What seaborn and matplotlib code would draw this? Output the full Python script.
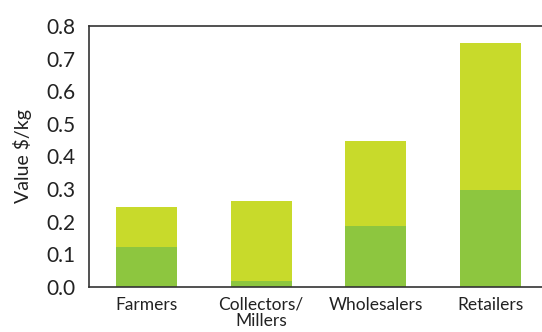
import matplotlib
matplotlib.use("Agg")
import matplotlib.pyplot as plt
import seaborn as sns
import pandas as pd
from matplotlib.ticker import FixedLocator

categories = ["Farmers", "Collectors/\nMillers", "Wholesalers", "Retailers"]
bottom_vals = [0.124, 0.019, 0.188, 0.298]
top_vals = [0.122, 0.246, 0.261, 0.451]
totals = [b + t for b, t in zip(bottom_vals, top_vals)]

df = pd.DataFrame({"cat": categories, "bottom": bottom_vals, "total": totals})

sns.set_style("white")
plt.rcParams["font.family"] = ["Lato", "DejaVu Sans"]

fig = plt.figure(figsize=(5.42, 3.32), dpi=100)
ax = fig.add_axes([89/542, 1-287/332, (548-89)/542, (287-26)/332])

sns.barplot(data=df, x="cat", y="total", color="#c8da2b", width=0.53,
            saturation=1, ax=ax, linewidth=0)
sns.barplot(data=df, x="cat", y="bottom", color="#8dc63f", width=0.53,
            saturation=1, ax=ax, linewidth=0)

ax.set_ylim(0, 0.8)
ax.set_xlim(-0.5, 3.5)
yt = [0.0, 0.1, 0.2, 0.3, 0.4, 0.5, 0.6, 0.7, 0.8]
ax.set_yticks(yt)
ax.set_yticklabels([f"{v:.1f}" for v in yt], fontsize=15, color="#222222")
ax.set_xticks([0, 1, 2, 3])
ax.set_xticklabels(categories, fontsize=12.5, color="#222222", linespacing=1.0)
ax.tick_params(axis="x", which="major", length=0, pad=7)
ax.xaxis.set_minor_locator(FixedLocator([-0.5, 0.5, 1.5, 2.5, 3.5]))
ax.tick_params(axis="x", which="minor", length=6, width=1.2, color="#333333", direction="out")
ax.tick_params(axis="y", length=6, width=1.2, color="#333333", direction="out", pad=4)
ax.set_xlabel("")
ax.set_ylabel("Value $/kg", fontsize=14, color="#222222", labelpad=10)

for s in ["left", "bottom", "top", "right"]:
    ax.spines[s].set_color("#333333")
    ax.spines[s].set_linewidth(1.2)
    ax.spines[s].set_visible(True)

fig.savefig("out.png", dpi=100)
